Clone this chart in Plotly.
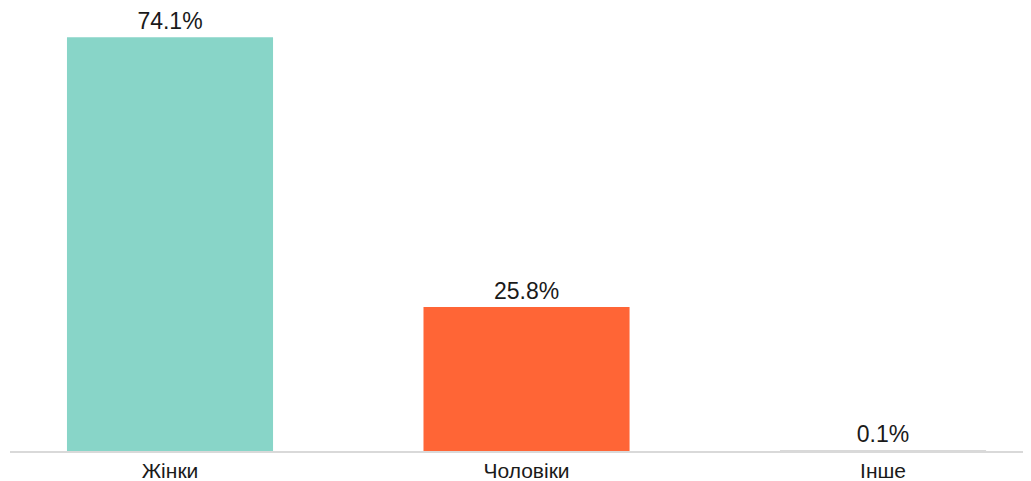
import plotly.graph_objects as go

categories = ["Жінки", "Чоловіки", "Інше"]
values = [74.1, 25.8, 0.1]
labels = ["74.1%", "25.8%", "0.1%"]
colors = ["#88d5c8", "#ff6536", "#d9d9d9"]

fig = go.Figure(go.Bar(
    x=list(range(len(categories))),
    y=values,
    width=0.578,
    marker=dict(color=colors, line=dict(width=0)),
    text=labels,
    textposition="outside",
    cliponaxis=False,
    textfont=dict(size=23, color="#1a1a1a", family="Liberation Sans, Arial, sans-serif"),
))

fig.update_layout(
    width=1023, height=473,
    margin=dict(l=2, r=0, t=2, b=30),
    paper_bgcolor="white", plot_bgcolor="white",
    showlegend=False,
    font=dict(family="Liberation Sans, Arial, sans-serif", color="#1a1a1a"),
    xaxis=dict(
        tickmode="array",
        tickvals=list(range(len(categories))),
        ticktext=categories,
        range=[-0.4488, 2.415],
        showline=True, linecolor="#d9d9d9", linewidth=2,
        showgrid=False, zeroline=False, ticks="",
        tickfont=dict(size=21, color="#1a1a1a"),
    ),
    yaxis=dict(
        range=[0, 79],
        visible=False,
        showgrid=False, zeroline=False,
    ),
)

fig.write_html("out.html")
